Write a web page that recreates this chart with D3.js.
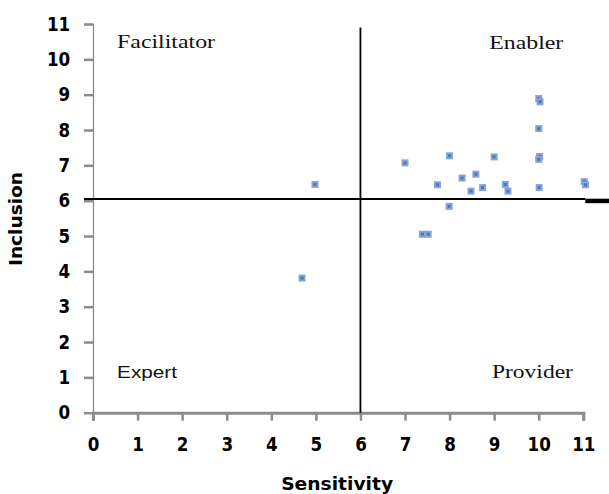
<!DOCTYPE html>
<html>
<head>
<meta charset="utf-8">
<script src="https://cdn.jsdelivr.net/npm/d3@7/dist/d3.min.js"></script>
<style>
  body { margin: 0; background: #fff; }
  svg { display: block; }
  .tick text { font-family: "DejaVu Sans", Verdana, sans-serif; font-weight: bold; font-size: 19px; fill: #000; }
</style>
</head>
<body>
<div id="container"></div>
<script>
var width = 609, height = 494;

// scatter values
var sensitivity = [7, 8, 9, 10, 10.03, 10, 10.02, 10, 7.73, 8.28, 8.59, 8.48, 8.74, 9.25, 9.31, 10.01, 11.02, 11.05, 7.99, 7.39, 7.52, 4.98, 4.69];
var inclusion   = [7.07, 7.27, 7.24, 8.89, 8.8, 8.04, 7.25, 7.17, 6.45, 6.64, 6.75, 6.27, 6.37, 6.46, 6.27, 6.37, 6.54, 6.45, 5.84, 5.05, 5.05, 6.46, 3.81];

var xTicks = [0, 1, 2, 3, 4, 5, 6, 7, 8, 9, 10, 11];
var yTicks = [0, 1, 2, 3, 4, 5, 6, 7, 8, 9, 10, 11];

var splitX = 6, splitY = 6.05;
var quadrants = ["Facilitator", "Enabler", "Expert", "Provider"];

var x = d3.scaleLinear().domain([0, 11]).range([93, 583.3]);
var y = d3.scaleLinear().domain([0, 11]).range([412.7, 24]);

var svg = d3.select("#container").append("svg")
    .attr("width", width)
    .attr("height", height);

/* axes */
var xAxis = svg.append("g")
    .attr("transform", "translate(0," + y(0) + ")")
    .call(d3.axisBottom(x).tickValues(xTicks).tickSize(8).tickPadding(17).tickFormat(d3.format("d")));
xAxis.select(".domain").attr("stroke", "#8c8c8c").attr("stroke-width", 3);
xAxis.selectAll(".tick line").attr("stroke", "#8c8c8c").attr("stroke-width", 2.5);
xAxis.selectAll(".tick text").attr("transform", "scale(0.88,1)");

var yAxis = svg.append("g")
    .attr("transform", "translate(" + x(0) + ",0)")
    .call(d3.axisLeft(y).tickValues(yTicks).tickSize(9).tickPadding(17).tickFormat(d3.format("d")));
yAxis.select(".domain").attr("stroke", "#8c8c8c").attr("stroke-width", 1.3);
yAxis.selectAll(".tick line").attr("stroke", "#8c8c8c").attr("stroke-width", 2.5);
yAxis.selectAll(".tick text").attr("transform", "scale(0.88,1)");

/* quadrant split lines */
svg.append("line")
    .attr("x1", x(0) - 9).attr("x2", x(11) + 2)
    .attr("y1", y(splitY)).attr("y2", y(splitY))
    .attr("stroke", "#000").attr("stroke-width", 2);
svg.append("line")
    .attr("x1", x(11) + 2).attr("x2", width)
    .attr("y1", y(splitY) + 2).attr("y2", y(splitY) + 2)
    .attr("stroke", "#000").attr("stroke-width", 4.5);
svg.append("line")
    .attr("x1", x(splitX)).attr("x2", x(splitX))
    .attr("y1", y(10.9)).attr("y2", y(0))
    .attr("stroke", "#000").attr("stroke-width", 1.8);

/* quadrant labels */
var qpos = [
  { x: x(0.54), y: y(10.32), w: 98, font: "Liberation Serif" },
  { x: x(8.89), y: y(10.32) + 1, w: 74, font: "Liberation Serif" },
  { x: x(0.54), y: y(1.0) + 1, w: 60, font: "Liberation Sans" },
  { x: x(8.95), y: y(1.0) + 1, w: 81, font: "Liberation Serif" }
];
svg.selectAll(".qlabel")
    .data(quadrants)
    .enter().append("text")
    .attr("class", "qlabel")
    .attr("x", function(d, i) { return qpos[i].x; })
    .attr("y", function(d, i) { return qpos[i].y; })
    .attr("textLength", function(d, i) { return qpos[i].w; })
    .attr("lengthAdjust", "spacingAndGlyphs")
    .style("font-family", function(d, i) { return qpos[i].font; })
    .style("font-size", function(d, i) { return i == 2 ? "17px" : "19px"; })
    .attr("fill", "#111")
    .text(function(d) { return d; });

/* points */
var pts = sensitivity.map(function(v, i) { return { x: v, y: inclusion[i] }; });
var point = svg.append("g").selectAll(".pt")
    .data(pts)
    .enter().append("g")
    .attr("transform", function(d) { return "translate(" + x(d.x) + "," + y(d.y) + ")"; });
point.append("rect")
    .attr("x", -3.5).attr("y", -3.5)
    .attr("width", 7).attr("height", 7)
    .attr("fill", "#85a5d6");
point.append("rect")
    .attr("x", -1.5).attr("y", -1.5)
    .attr("width", 3).attr("height", 3)
    .attr("fill", "#4f75b6");

/* axis titles */
svg.append("text")
    .attr("x", (x(0) + x(11)) / 2 - 1)
    .attr("y", 490)
    .attr("text-anchor", "middle")
    .style("font-family", "DejaVu Sans")
    .style("font-weight", "bold")
    .style("font-size", "18px")
    .attr("textLength", 112)
    .attr("lengthAdjust", "spacingAndGlyphs")
    .text("Sensitivity");

svg.append("text")
    .attr("transform", "translate(22," + 219 + ") rotate(-90)")
    .attr("text-anchor", "middle")
    .style("font-family", "DejaVu Sans")
    .style("font-weight", "bold")
    .style("font-size", "17px")
    .attr("textLength", 94)
    .attr("lengthAdjust", "spacingAndGlyphs")
    .text("Inclusion");
</script>
</body>
</html>
